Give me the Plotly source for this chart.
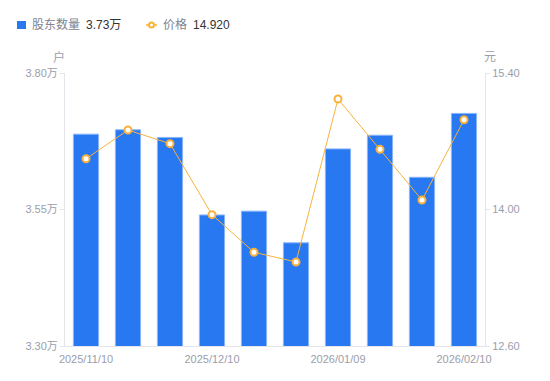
import plotly.graph_objects as go

dates = ["2025/11/10", "2025/11/20", "2025/11/28", "2025/12/10", "2025/12/19",
         "2025/12/31", "2026/01/09", "2026/01/20", "2026/01/30", "2026/02/10"]
holders = [3.688, 3.696, 3.682, 3.540, 3.547, 3.489, 3.661, 3.686, 3.609, 3.726]  # 万户
price = [14.52, 14.815, 14.675, 13.947, 13.561, 13.462, 15.133, 14.617, 14.097, 14.92]

left_ticks = [3.30, 3.55, 3.80]
left_labels = ["3.30万", "3.55万", "3.80万"]
right_ticks = [12.60, 14.00, 15.40]
right_labels = ["12.60", "14.00", "15.40"]
x_tick_idx = [0, 3, 6, 9]

FONT = "'Liberation Sans', Arial, 'Noto Sans CJK SC', sans-serif"
GRAY = "#9a9eab"
LGRAY = "#80848f"
DARK = "#333333"
AXIS = "#e3e5ea"
BLUE = "#2878f2"
ORANGE = "#f8b23c"

W, H = 550, 381
ML, MR, MT, MB = 65, 65, 73, 35
PW, PH = W - ML - MR, H - MT - MB


def px(xp):
    return (xp - ML) / PW


def py(yp):
    return (H - MB - yp) / PH


x = list(range(len(dates)))

fig = go.Figure()
fig.add_trace(go.Bar(
    x=x, y=holders, width=0.6,
    marker=dict(color=BLUE, line=dict(color="#8ab6fb", width=1)),
    name="股东数量", yaxis="y", showlegend=False,
))
fig.add_trace(go.Scatter(
    x=x, y=price, mode="lines+markers",
    line=dict(color=ORANGE, width=1),
    marker=dict(symbol="circle", size=7, color="white", line=dict(color=ORANGE, width=2)),
    name="价格", yaxis="y2", showlegend=False,
))

annotations = [
    dict(text="户", xref="paper", yref="paper", x=px(59), y=py(57),
         xanchor="center", yanchor="middle", showarrow=False, font=dict(size=12, color=GRAY)),
    dict(text="元", xref="paper", yref="paper", x=px(490), y=py(57),
         xanchor="center", yanchor="middle", showarrow=False, font=dict(size=12, color=GRAY)),
    # custom legend texts
    dict(text="股东数量", xref="paper", yref="paper", x=px(30), y=py(25),
         xanchor="left", yanchor="middle", showarrow=False, font=dict(size=12, color=LGRAY)),
    dict(text=f"{holders[-1]:.2f}万", xref="paper", yref="paper", x=px(84), y=py(25),
         xanchor="left", yanchor="middle", showarrow=False, font=dict(size=12, color=DARK)),
    dict(text="价格", xref="paper", yref="paper", x=px(161), y=py(25),
         xanchor="left", yanchor="middle", showarrow=False, font=dict(size=12, color=LGRAY)),
    dict(text=f"{price[-1]:.3f}", xref="paper", yref="paper", x=px(191), y=py(25),
         xanchor="left", yanchor="middle", showarrow=False, font=dict(size=12, color=DARK)),
]
shapes = [
    dict(type="rect", xref="paper", yref="paper", x0=px(17), x1=px(26), y0=py(29), y1=py(21),
         fillcolor=BLUE, line=dict(width=0)),
    dict(type="line", xref="paper", yref="paper", x0=px(146), x1=px(157), y0=py(25), y1=py(25),
         line=dict(color=ORANGE, width=1.5)),
    dict(type="circle", xref="paper", yref="paper", x0=px(149), x1=px(154), y0=py(27.5), y1=py(22.5),
         fillcolor="white", line=dict(color=ORANGE, width=2)),
]

fig.update_layout(
    width=W, height=H,
    margin=dict(l=ML, r=MR, t=MT, b=MB),
    paper_bgcolor="white", plot_bgcolor="white",
    font=dict(family=FONT, size=12, color=GRAY),
    showlegend=False,
    xaxis=dict(
        range=[-0.5, len(dates) - 0.5],
        tickmode="array", tickvals=x_tick_idx,
        ticktext=[dates[i] for i in x_tick_idx],
        showline=True, linecolor=AXIS, linewidth=1,
        ticks="outside", ticklen=3, tickcolor="rgba(0,0,0,0)",
        showgrid=False, zeroline=False,
        tickfont=dict(size=11, color=GRAY),
    ),
    yaxis=dict(
        range=[3.30, 3.80], tickmode="array", tickvals=left_ticks, ticktext=left_labels,
        showline=True, linecolor=AXIS, linewidth=1,
        ticks="outside", ticklen=4, tickcolor=AXIS,
        showgrid=False, zeroline=False,
        tickfont=dict(size=11, color=GRAY),
    ),
    yaxis2=dict(
        range=[12.60, 15.40], tickmode="array", tickvals=right_ticks, ticktext=right_labels,
        overlaying="y", side="right",
        showline=True, linecolor=AXIS, linewidth=1,
        ticks="outside", ticklen=4, tickcolor=AXIS,
        showgrid=False, zeroline=False,
        tickfont=dict(size=11, color=GRAY),
    ),
    annotations=annotations,
    shapes=shapes,
)

fig.write_html("out.html", config={"displayModeBar": False},
               post_script="document.body.style.margin='0';")
